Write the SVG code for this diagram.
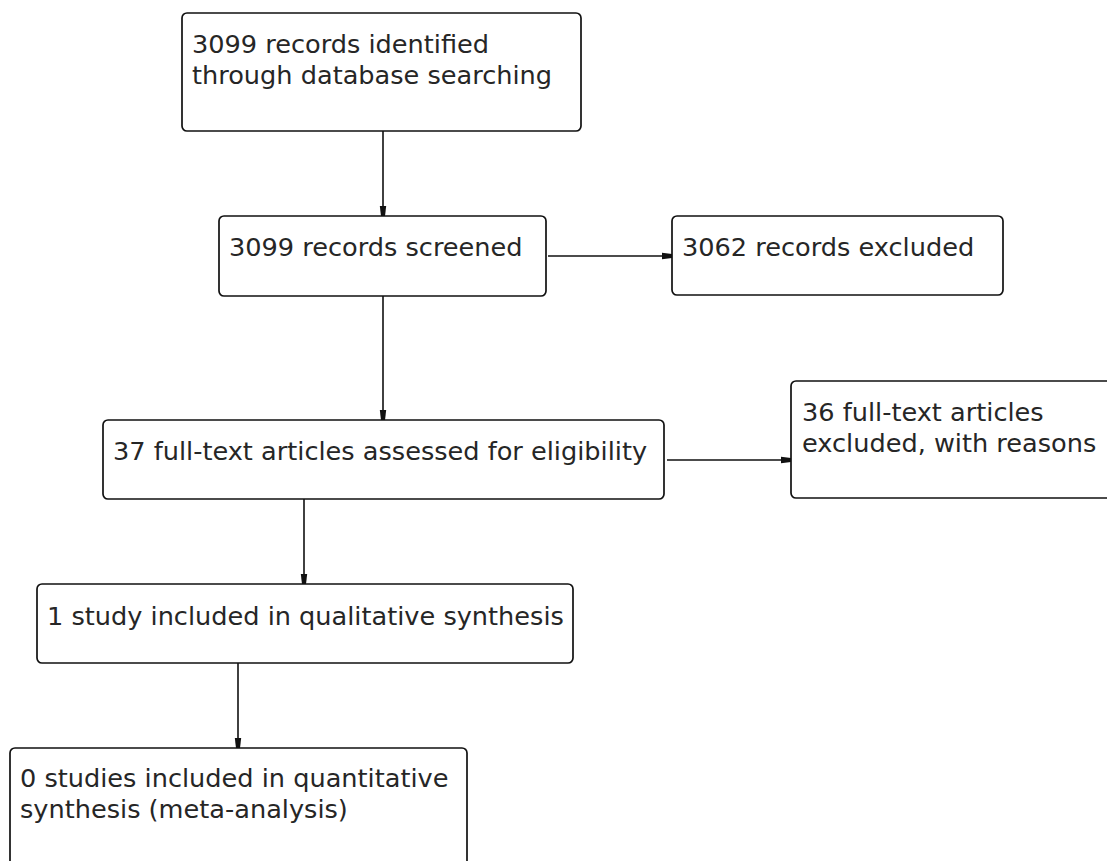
<svg xmlns="http://www.w3.org/2000/svg" width="1107" height="861" viewBox="0 0 1107 861">
<style>
.box{fill:#fff;stroke:#111;stroke-width:1.7}
.t{font-family:"DejaVu Sans",sans-serif;font-size:25.6px;fill:#262626}
.c{stroke:#111;stroke-width:1.6;fill:none;marker-end:url(#ah)}
</style>
<defs>
<marker id="ah" viewBox="0 0 10 8" refX="10" refY="4" markerWidth="10" markerHeight="8" markerUnits="userSpaceOnUse" orient="auto">
<path d="M0,0.8 L10,2 L10,6 L0,7.2 Z" fill="#111"/>
</marker>
</defs>
<rect width="1107" height="861" fill="#fff"/>
<g id="connectors">
<line class="c" x1="383" y1="131" x2="383" y2="216"/>
<line class="c" x1="548" y1="256" x2="672" y2="256"/>
<line class="c" x1="383" y1="296" x2="383" y2="420"/>
<line class="c" x1="667" y1="460" x2="791" y2="460"/>
<line class="c" x1="304" y1="499" x2="304" y2="584"/>
<line class="c" x1="238" y1="663" x2="238" y2="748"/>
</g>
<g id="n1">
<rect class="box" x="182" y="13" width="399" height="118" rx="5"/>
<text class="t" x="192" y="53">3099 records identified</text>
<text class="t" x="192" y="84">through database searching</text>
</g>
<g id="n2">
<rect class="box" x="219" y="216" width="327" height="80" rx="5"/>
<text class="t" x="229" y="256">3099 records screened</text>
</g>
<g id="n3">
<rect class="box" x="672" y="216" width="331" height="79" rx="5"/>
<text class="t" x="682" y="256">3062 records excluded</text>
</g>
<g id="n4">
<rect class="box" x="103" y="420" width="561" height="79" rx="5"/>
<text class="t" x="113" y="460">37 full-text articles assessed for eligibility</text>
</g>
<g id="n5">
<rect class="box" x="791" y="381" width="330" height="117" rx="5"/>
<text class="t" x="802" y="421">36 full-text articles</text>
<text class="t" x="802" y="452">excluded, with reasons</text>
</g>
<g id="n6">
<rect class="box" x="37" y="584" width="536" height="79" rx="5"/>
<text class="t" x="47" y="625">1 study included in qualitative synthesis</text>
</g>
<g id="n7">
<rect class="box" x="10" y="748" width="457" height="130" rx="5"/>
<text class="t" x="20" y="787">0 studies included in quantitative</text>
<text class="t" x="20" y="818">synthesis (meta-analysis)</text>
</g>
</svg>
